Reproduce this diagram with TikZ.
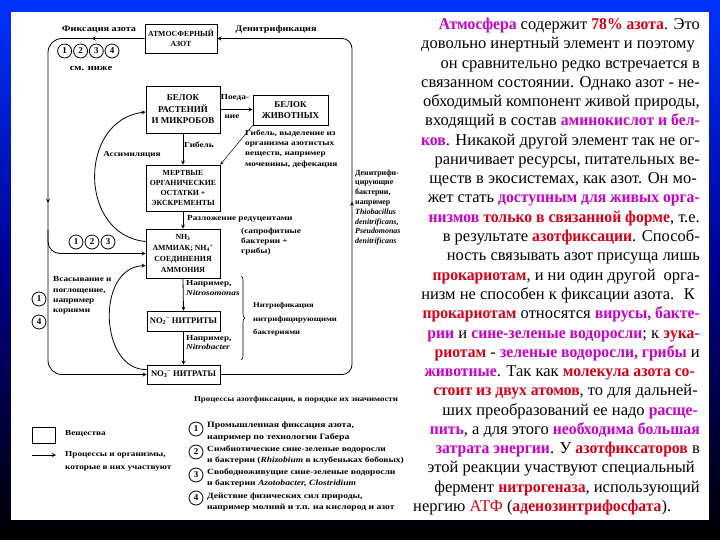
\documentclass[tikz,border=0pt]{standalone}
\usepackage{fontspec}
\setmainfont{Liberation Serif}
\newfontfamily\scanfam[FakeStretch=1.2]{Liberation Serif}
\newfontfamily\heavyfam[FakeStretch=0.95]{Liberation Serif}
\usetikzlibrary{decorations.markings,decorations.pathreplacing}
\definecolor{bgtop}{RGB}{0,51,255}
\definecolor{bgmid}{RGB}{0,0,140}
\definecolor{txtred}{RGB}{215,0,25}
\definecolor{txtmag}{RGB}{200,0,200}
\newcommand{\redw}[1]{\textcolor{txtred}{\heavyfam\bfseries #1}}
\newcommand{\magw}[1]{\textcolor{txtmag}{\heavyfam\bfseries #1}}
\newcommand{\scanfont}[2]{\scanfam\bfseries\fontsize{#1}{#2}\selectfont}

\begin{document}
\begin{tikzpicture}[x=1pt, y=-1pt, >=stealth,
  subst/.style={draw, line width=0.8pt, align=center, inner sep=0pt, font=\bfseries\fontsize{7.8}{10}\selectfont},
  num/.style={circle, draw, line width=0.8pt, inner sep=0pt, minimum size=14pt, font=\bfseries\fontsize{9}{9}\selectfont},
  lbl/.style={inner sep=0pt, font=\scanfont{7.7}{10}},
  flow/.style={->, line width=0.8pt},
  txt/.style={anchor=base east, inner sep=0pt, font=\fontsize{16.5}{19}\selectfont},
]
% background and white sheet
\fill[top color=bgtop, bottom color=black, middle color=bgmid] (0,0) rectangle (720,540);
\fill[white] (11,12) rectangle (709,520);

% substances
\node[subst, minimum width=72pt, minimum height=29pt] (atm) at (181,38.5) {АТМОСФЕРНЫЙ\\АЗОТ};
\node[subst, minimum width=74pt, minimum height=47pt, font=\bfseries\fontsize{9}{11.5}\selectfont] (plant) at (183,109.5) {БЕЛОК\\РАСТЕНИЙ\\И МИКРОБОВ};
\node[subst, minimum width=75pt, minimum height=30pt, font=\bfseries\fontsize{9}{11}\selectfont] (anim) at (290.5,110) {БЕЛОК\\ЖИВОТНЫХ};
\node[subst, minimum width=74pt, minimum height=46pt] (dead) at (183,188) {МЕРТВЫЕ\\ОРГАНИЧЕСКИЕ\\ОСТАТКИ +\\ЭКСКРЕМЕНТЫ};
\node[subst, minimum width=74pt, minimum height=49pt, font=\bfseries\fontsize{7.8}{10.8}\selectfont] (amm) at (183,253.5) {NH\textsubscript{3}\\АММИАК; NH\textsubscript{4}\textsuperscript{+}\\СОЕДИНЕНИЯ\\АММОНИЯ};
\node[subst, minimum width=73pt, minimum height=20pt, font=\bfseries\fontsize{8.6}{10}\selectfont] (nite) at (183.5,321) {NO\textsubscript{2}\textsuperscript{--} НИТРИТЫ};
\node[subst, minimum width=73pt, minimum height=19pt, font=\bfseries\fontsize{8.6}{10}\selectfont] (nita) at (183.5,374.5) {NO\textsubscript{3}\textsuperscript{--} НИТРАТЫ};

% labels
\node[lbl, font=\scanfont{8.5}{10}] (fix) at (99,29) {Фиксация азота};
\node[lbl, font=\scanfont{8.5}{10}] (denit) at (276,29) {Денитрификация};
\node[num] (c1) at (64.6,51) {1};
\node[num] (c2) at (80.6,51) {2};
\node[num] (c3) at (96.3,51) {3};
\node[num] (c4) at (112,51) {4};
\node[lbl, font=\scanfont{8.8}{10}] (below) at (91,68) {см. ниже};
\node[lbl] (eat1) at (235,98) {Поеда-};
\node[lbl] (eat2) at (232,117) {ние};
\node[lbl] (death) at (199,145) {Гибель};
\node[lbl] (assim) at (132,155) {Ассимиляция};
\node[lbl, align=left, anchor=north west, font=\scanfont{7.7}{10.3}] (excr) at (245,129.5) {Гибель, выделение из\\организма азотистых\\веществ, например\\мочевины, дефекация};
\node[lbl, anchor=west] (decomp) at (187,219) {Разложение редуцентами};
\node[lbl, align=left, anchor=north west] (sapr) at (241,227.5) {(сапрофитные\\бактерии +\\грибы)};
\node[num] (m1) at (76,242) {1};
\node[num] (m2) at (92,242) {2};
\node[num] (m3) at (108,242) {3};
\node[lbl, align=left, anchor=north west, font=\scanfont{7.7}{10.3}] (absorb) at (53,276.5) {Всасывание и\\поглощение,\\например\\корнями};
\node[num] (v1) at (39,299) {1};
\node[num] (v4) at (39,322) {4};
\node[lbl, align=left, anchor=north west, font=\scanfont{7.7}{9.5}] (nsom) at (186,280.5) {Например,\\\textit{Nitrosomonas}};
\node[lbl, align=left, anchor=north west, font=\scanfont{7.7}{9}] (nbac) at (186,335.5) {Например,\\\textit{Nitrobacter}};
\node[lbl, align=left, anchor=north west, font=\scanfont{7.2}{13.5}] (nitrif) at (253,302.5) {Нитрификация\\нитрифицирующими\\бактериями};
\node[lbl, align=left, anchor=north west, font=\bfseries\fontsize{7.9}{9.8}\selectfont] (dbac) at (355,169.5) {Денитрифи-\\цирующие\\бактерии,\\например\\\textit{Thiobacillus}\\\textit{denitrificans},\\\textit{Pseudomonas}\\\textit{denitrificans}};

% cycle
\coordinate (lt) at (48,38.5);
\coordinate (lb) at (48,374.5);
\coordinate (br) at (48,230);
\coordinate (rt) at (352,38.5);
\coordinate (rb) at (352,374.5);
\draw[flow, rounded corners=14pt, postaction={decorate}, decoration={markings, mark=at position 53pt with {\arrow{stealth}}, mark=at position 255pt with {\arrow{stealth}}}] (atm.west) -- (lt) -- (lb) -- (nita.west);
\draw[flow, rounded corners=12pt] (br) |- (amm.west);
\draw[flow, rounded corners=10pt, postaction={decorate}, decoration={markings, mark=at position 300pt with {\arrow{stealth}}}] (nita.east) -- (rb) -- (rt) -- (atm.east);
\draw[flow] (plant.east) -- (plant.east -| anim.west);
\draw[flow] (plant.south) -- (dead.north);
\draw[flow, line width=0.5pt] (anim.south west) -- (dead.north east);
\draw[flow] (dead.south) -- (amm.north);
\draw[flow] (amm.south) -- (nite.north);
\draw[flow] (nite.south) -- (nita.north);
\draw[flow] ([yshift=12pt]amm.west) .. controls (78,235) and (78,120) .. ([yshift=-2.5pt]plant.west);
\draw[flow] ([yshift=5pt]nita.west) .. controls (100,371) and (95,268) .. ([yshift=-12pt]amm.west);
\coordinate (bt) at (241,276);
\coordinate (bb) at (241,360);
\draw[line width=0.6pt, decorate, decoration={brace, amplitude=4pt}] (bt) -- (bb);

% legend
\node[lbl, font=\scanfont{7.4}{10}] (ltitle) at (296,400) {Процессы азотфиксации, в порядке их значимости};
\node[draw, line width=0.8pt, minimum width=23pt, minimum height=16pt, inner sep=0pt] (legbox) at (43.5,435) {};
\node[lbl, anchor=west] (subs) at (65,434) {Вещества};
\coordinate (la1) at (32,455);
\coordinate (la2) at (56,455);
\draw[flow] (la1) -- (la2);
\node[lbl, align=left, anchor=north west, font=\scanfont{7.7}{13}] (proc) at (65,451.5) {Процессы и организмы,\\которые в них участвуют};
\node[num] (l1) at (196,429) {1};
\node[num] (l2) at (196,452) {2};
\node[num] (l3) at (196,475) {3};
\node[num] (l4) at (196,498) {4};
\node[lbl, align=left, anchor=north west, font=\scanfont{8.2}{11.4}] (p1) at (207,422) {Промышленная фиксация азота,\\например по технологии Габера};
\node[lbl, align=left, anchor=north west, font=\scanfont{7.9}{11.4}] (p2) at (207,445.5) {Симбиотические сине-зеленые водоросли\\и бактерии (\textit{Rhizobium} в клубеньках бобовых)};
\node[lbl, align=left, anchor=north west, font=\scanfont{8.0}{11.4}] (p3) at (207,468.5) {Свободноживущие сине-зеленые водоросли\\и бактерии \textit{Azotobacter, Clostridium}};
\node[lbl, align=left, anchor=north west, font=\scanfont{8.0}{11.4}] (p4) at (207,492.5) {Действие физических сил природы,\\например молний и т.п. на кислород и азот};

% text
\node[txt] (t1) at (700,29.5) {\magw{Атмосфера} содержит \redw{78\% азота}. Это};
\node[txt] (t2) at (695,48.8) {довольно инертный элемент и поэтому};
\node[txt] (t3) at (700,68.1) {он сравнительно редко встречается в};
\node[txt] (t4) at (700,87.3) {связанном состоянии. Однако азот - не-};
\node[txt] (t5) at (700,106.6) {обходимый компонент живой природы,};
\node[txt] (t6) at (700,125.9) {входящий в состав \magw{аминокислот и бел-}};
\node[txt] (t7) at (700,145.2) {\magw{ков}. Никакой другой элемент так не ог-};
\node[txt] (t8) at (700,164.5) {раничивает ресурсы, питательных ве-};
\node[txt] (t9) at (697,183.7) {ществ в экосистемах, как азот. Он мо-};
\node[txt] (t10) at (700,203.0) {жет стать \magw{доступным для живых орга-}};
\node[txt] (t11) at (700,222.3) {\magw{низмов} \redw{только в связанной форме}, т.е.};
\node[txt] (t12) at (700,241.6) {в результате \redw{азотфиксации}. Способ-};
\node[txt] (t13) at (700,260.9) {ность связывать азот присуща лишь};
\node[txt] (t14) at (700,280.1) {\redw{прокариотам}, и ни один другой\hspace{4pt} орга-};
\node[txt] (t15) at (695,299.4) {низм не способен к фиксации азота.\hspace{4pt} К};
\node[txt] (t16) at (700,318.7) {\redw{прокариотам} относятся \magw{вирусы, бакте-}};
\node[txt] (t17) at (700,338.0) {\magw{рии} и \magw{сине-зеленые водоросли}; к \redw{эука-}};
\node[txt] (t18) at (700,357.3) {\redw{риотам} - \magw{зеленые водоросли, грибы} и};
\node[txt] (t19) at (695,376.5) {\magw{животные}. Так как \redw{молекула азота со-}};
\node[txt] (t20) at (698,395.8) {\redw{стоит из двух атомов}, то для дальней-};
\node[txt] (t21) at (698,415.1) {ших преобразований ее надо \magw{расще-}};
\node[txt] (t22) at (700,434.4) {\magw{пить}, а для этого \magw{необходима большая}};
\node[txt] (t23) at (700,453.7) {\magw{затрата энергии}. У \redw{азотфиксаторов} в};
\node[txt] (t24) at (695,472.9) {этой реакции участвуют специальный};
\node[txt] (t25) at (700,492.2) {фермент \redw{нитрогеназа}, использующий};
\node[txt, anchor=base west] (t26) at (413,511.5) {нергию \textcolor{txtred}{АТФ} (\redw{аденозинтрифосфата}).};
\end{tikzpicture}
\end{document}
